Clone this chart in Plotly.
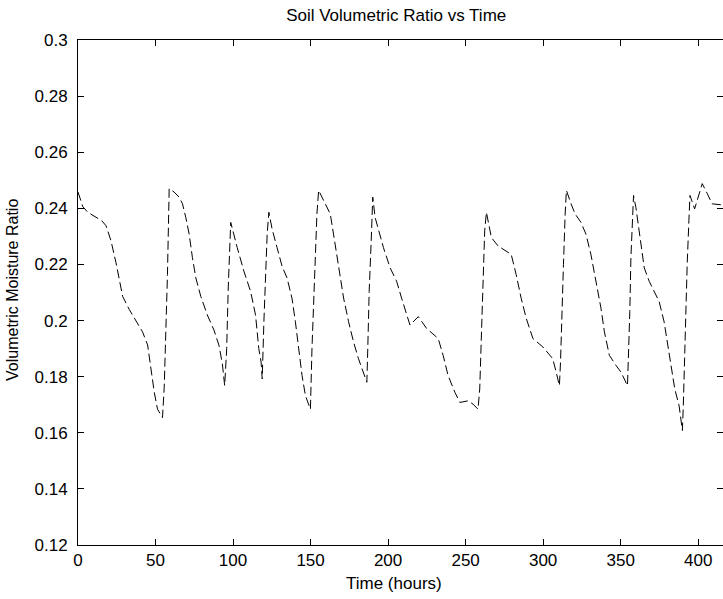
import plotly.graph_objects as go

time_hours = [0, 3.1, 6.3, 15.3, 18.1, 21.3, 24.5, 26.7, 28.8, 33.1, 38.4, 41.6, 44.9, 47.0, 49.2, 51.3, 54.5,
              55.6, 56.7, 57.7, 58.8, 62.0, 65.2, 67.4, 69.5, 71.7, 73.8, 76.0, 79.2, 83.4, 87.7, 90.9, 93.1, 94.6,
              95.9, 96.9, 98.5, 100.6, 102.7, 107.0, 111.3, 114.5, 116.6, 118.1, 118.8,
              119.9, 120.9, 122.0, 123.1, 125.2, 128.4, 131.6, 134.8, 138.0, 140.2, 142.4, 144.5, 146.7, 149.9,
              150.9, 152.0, 153.1, 154.1, 155.2, 158.4, 162.7, 164.8, 168.1, 171.3, 174.5, 177.7, 180.9, 184.1, 186.3,
              186.9, 187.8, 189.1, 190.1, 191.6, 193.8, 197.0, 201.3, 205.5, 208.7, 212.0, 214.1, 219.5, 224.8,
              232.3, 235.5, 238.7, 243.1, 246.3, 251.6, 254.8, 258.0,
              259.1, 260.2, 261.2, 262.3, 263.4, 265.1, 266.6, 270.9, 279.4, 282.6, 285.8, 289.1, 293.4, 299.8,
              306.2, 308.4, 310.5,
              311.2, 312.0, 313.1, 314.2, 315.0, 318.0, 320.6, 324.4, 327.6, 330.8, 334.1, 337.3, 339.5, 342.7,
              347.0, 350.2, 354.4,
              354.9, 355.9, 356.6, 357.7, 358.3, 359.8, 361.3, 363.0, 365.2, 368.4, 371.6, 374.8, 378.0, 380.2,
              382.3, 384.9, 387.7, 389.8,
              390.4, 391.2, 391.9, 392.9, 394.0, 394.7, 397.7, 399.4, 402.6, 405.9, 409.0, 416.0]

moisture_ratio = [0.2458, 0.2406, 0.2386, 0.2356, 0.2338, 0.2284, 0.2206, 0.214, 0.2086, 0.2039, 0.199, 0.196,
                  0.1913, 0.1828, 0.1744, 0.1684, 0.1654,
                  0.1762, 0.196, 0.2164, 0.247, 0.2458, 0.244, 0.2416, 0.2368, 0.2308, 0.2224, 0.2152, 0.2086,
                  0.202, 0.1966, 0.1912, 0.1846, 0.1768,
                  0.19, 0.2116, 0.235, 0.2302, 0.226, 0.2176, 0.2104, 0.202, 0.19, 0.1852, 0.1792,
                  0.1996, 0.2152, 0.2308, 0.2386, 0.2326, 0.226, 0.2194, 0.2152, 0.208, 0.1996, 0.19, 0.1804,
                  0.1732, 0.1684,
                  0.19, 0.208, 0.2224, 0.238, 0.2464, 0.2428, 0.238, 0.2308, 0.22, 0.208, 0.1996, 0.1924, 0.1864,
                  0.1816, 0.178,
                  0.19, 0.2104, 0.2284, 0.244, 0.2368, 0.232, 0.226, 0.2188, 0.214, 0.208, 0.202, 0.1984, 0.2014,
                  0.1972, 0.1936, 0.1876, 0.1804, 0.1744, 0.1708, 0.1714, 0.1702, 0.1684,
                  0.1756, 0.196, 0.22, 0.232, 0.2386, 0.2332, 0.2296, 0.2266, 0.2236, 0.2164, 0.208, 0.2008,
                  0.1936, 0.1906, 0.1864, 0.1816, 0.1768,
                  0.1852, 0.202, 0.22, 0.238, 0.2464, 0.2416, 0.238, 0.235, 0.2308, 0.2236, 0.214, 0.2044, 0.196,
                  0.1876, 0.184, 0.1816, 0.1768,
                  0.1852, 0.2032, 0.2224, 0.2356, 0.2446, 0.2404, 0.2344, 0.2272, 0.2188, 0.214, 0.2104, 0.2068,
                  0.1996, 0.1924, 0.184, 0.1756, 0.1696, 0.1608,
                  0.1696, 0.1876, 0.2032, 0.22, 0.2356, 0.2446, 0.2398, 0.2428, 0.2488, 0.2452, 0.2416, 0.2412]

x_tick_vals = [0, 50, 100, 150, 200, 250, 300, 350, 400]
x_tick_text = ["0", "50", "100", "150", "200", "250", "300", "350", "400"]
y_tick_vals = [0.12, 0.14, 0.16, 0.18, 0.2, 0.22, 0.24, 0.26, 0.28, 0.3]
y_tick_text = ["0.12", "0.14", "0.16", "0.18", "0.2", "0.22", "0.24", "0.26", "0.28", "0.3"]

font_family = "Liberation Sans, Arial, sans-serif"

fig = go.Figure()
fig.add_trace(go.Scatter(
    x=time_hours, y=moisture_ratio, mode="lines",
    line=dict(color="black", width=1, dash="9px,4px"),
    showlegend=False,
))

axis_common = dict(
    showgrid=False, zeroline=False, showline=True, linecolor="black", linewidth=1,
    mirror="ticks", ticks="inside", ticklen=6, tickcolor="black", tickwidth=1,
    tickfont=dict(family=font_family, size=17, color="black"),
)

fig.update_layout(
    width=723, height=599,
    margin=dict(l=78, r=0, t=40, b=54),
    paper_bgcolor="white", plot_bgcolor="white",
    title=dict(text="Soil Volumetric Ratio vs Time", x=0.548, xanchor="center",
               y=1 - 15 / 599, yanchor="middle", yref="container",
               font=dict(family=font_family, size=17, color="black")),
    xaxis=dict(range=[0, 416], tickvals=x_tick_vals, ticktext=x_tick_text, **axis_common),
    yaxis=dict(range=[0.12, 0.3], tickvals=y_tick_vals, ticktext=y_tick_text,
               ticklabelstandoff=6, **axis_common),
    annotations=[
        dict(text="Time (hours)", xref="paper", yref="paper", x=0.49, y=(545 - 583) / 505,
             xanchor="center", yanchor="middle", showarrow=False,
             font=dict(family=font_family, size=17, color="black")),
        dict(text="Volumetric Moisture Ratio", xref="paper", yref="paper", x=(13 - 78) / 645, y=0.505,
             xanchor="center", yanchor="middle", textangle=-90, showarrow=False,
             font=dict(family=font_family, size=16, color="black")),
    ],
)

fig.write_html("out.html")
